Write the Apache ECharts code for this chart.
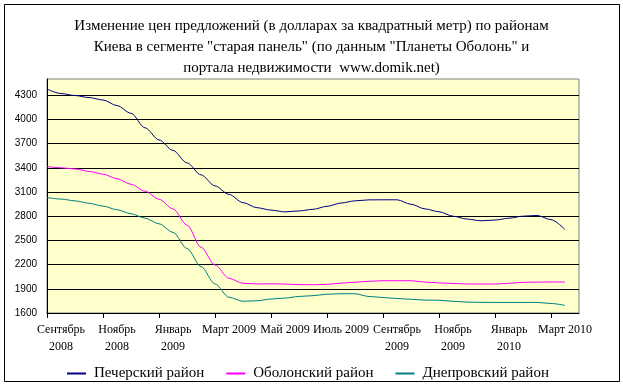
<!DOCTYPE html>
<html>
<head>
<meta charset="utf-8">
<script src="https://cdn.jsdelivr.net/npm/echarts@6/dist/echarts.min.js"></script>
<style>html,body{margin:0;padding:0;background:#fff}#c{width:623px;height:388px}</style>
</head>
<body>
<div id="c"></div>
<script>
// Half-month slots: Sep 2008 ... mid Mar 2010 (+1 empty slot at the right edge).
// Month labels sit on the mid-month slot, ticks on the month start.
var categories = [
  "","Сентябрь\n2008","","",
  "","Ноябрь\n2008","","",
  "","Январь\n2009","","",
  "","Март 2009","","",
  "","Май 2009","","",
  "","Июль 2009","","",
  "","Сентябрь\n2009","","",
  "","Ноябрь\n2009","","",
  "","Январь\n2010","","",
  "","Март 2010",""
];
var seriesNames = ["Печерский район","Оболонский район","Днепровский район"];
var pechersk = [4375,4320,4295,4270,4240,4170,4075,3895,3745,3615,3460,3312,3175,3070,2968,2905,2875,2853,2865,2885,2922,2963,2990,3002,3003,3003,2948,2890,2855,2800,2764,2743,2752,2775,2800,2809,2757,2635];
var obolon = [3415,3400,3385,3355,3320,3265,3195,3110,3010,2890,2690,2415,2195,2030,1968,1960,1962,1958,1952,1950,1955,1970,1982,1993,2000,2000,2000,1983,1973,1966,1960,1959,1959,1968,1980,1983,1984,1984];
var dnipro = [3030,3012,2990,2960,2925,2880,2830,2775,2705,2600,2400,2175,1960,1795,1745,1752,1773,1785,1805,1815,1833,1839,1838,1805,1792,1780,1770,1760,1758,1745,1735,1732,1731,1731,1731,1731,1718,1694];
var yTicks = {min:1600, max:4500, step:300};
var titleText = "Изменение цен предложений (в долларах за квадратный метр) по районам\nКиева в сегменте \"старая панель\" (по данным \"Планеты Оболонь\" и\nпортала недвижимости  www.domik.net)";

var colors = ["#000080","#FF00FF","#008080"];
var serif = "'Liberation Serif','Times New Roman',serif";
var chart = echarts.init(document.getElementById('c'), null, {renderer:'canvas'});
function mk(name, data, i){
  return {name:name, type:'line', data:data, symbol:'none', smooth:0.3, smoothMonotone:'x',
    lineStyle:{color:colors[i], width:1}, itemStyle:{color:colors[i]}};
}
chart.setOption({
  animation:false,
  backgroundColor:'#ffffff',
  graphic:[{type:'rect', shape:{x:4.5,y:4.5,width:615,height:377}, style:{fill:null, stroke:'#000', lineWidth:1}, silent:true}],
  title:{text:titleText, left:'center', top:11, textStyle:{fontFamily:serif, fontSize:15, fontWeight:'normal', lineHeight:21, color:'#000'}},
  grid:{left:47, right:44, top:79, bottom:75, show:true, backgroundColor:'#FFFFCC', borderColor:'#808080', borderWidth:1},
  legend:{left:62, top:361, itemWidth:19, itemHeight:2, itemGap:22,
    textStyle:{fontFamily:serif, fontSize:15, color:'#000', padding:[0,0,0,3]},
    data:seriesNames.map(function(n,i){return {name:n, icon:'rect', itemStyle:{color:colors[i]}};})},
  xAxis:{type:'category', boundaryGap:false, data:categories,
    axisLine:{lineStyle:{color:'#000', width:1}},
    axisTick:{show:true, interval:function(i){return i%4===0;}, length:5, lineStyle:{color:'#000'}},
    axisLabel:{interval:function(i){return i%4===1;}, hideOverlap:false,
      color:'#000', fontFamily:serif, fontSize:12, lineHeight:17, margin:8},
    splitLine:{show:false}},
  yAxis:{type:'value', min:yTicks.min, max:yTicks.max, interval:yTicks.step,
    axisLine:{show:true, lineStyle:{color:'#000'}},
    axisTick:{show:false},
    axisLabel:{color:'#000', fontFamily:"'Liberation Sans',Arial,sans-serif", fontSize:10, margin:10, showMaxLabel:false,
      formatter:function(v){return String(v);}},
    splitLine:{show:true, showMaxLine:false, lineStyle:{color:'#000', width:1}}},
  series:[mk(seriesNames[0], pechersk, 0), mk(seriesNames[1], obolon, 1), mk(seriesNames[2], dnipro, 2)]
});
</script>
</body>
</html>
